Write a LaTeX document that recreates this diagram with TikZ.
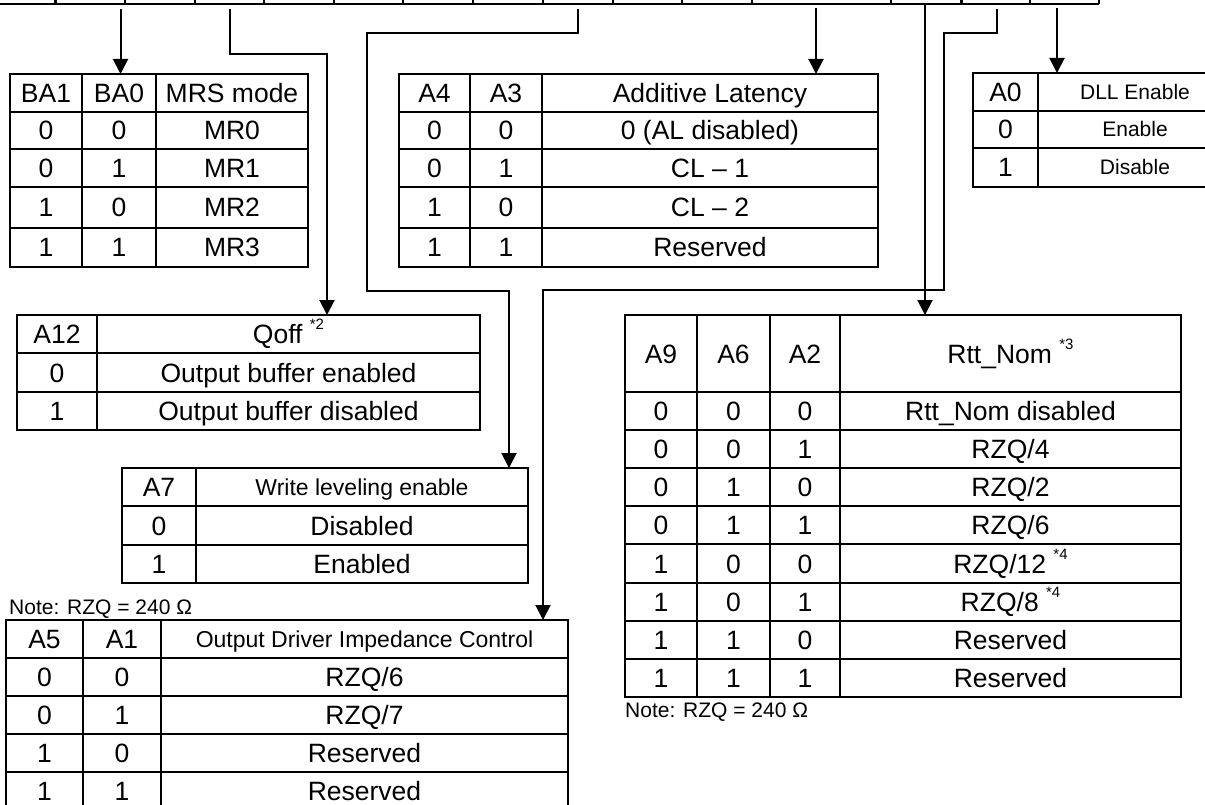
\documentclass[tikz,border=0pt]{standalone}
\usepackage{fontspec}
\setmainfont{Liberation Sans}
\usetikzlibrary{arrows.meta}
\tikzset{
  tab/.style={line width=2.4pt},
  wire/.style={line width=2pt},
  tip/.style={-{Triangle[width=15pt,length=15pt]}},
  cell/.style={inner sep=0pt,font=\fontsize{26.5}{30}\selectfont,text height=19pt,text depth=0pt},
  smallcell/.style={cell,font=\fontsize{23}{27}\selectfont,text height=16.5pt},
  dllcell/.style={cell,font=\fontsize{21}{25}\selectfont,text height=15pt},
  note/.style={inner sep=0pt,anchor=west,font=\fontsize{21}{25}\selectfont,text height=15pt,text depth=0pt}
}
\newcommand\tabgrid[6]{%
  \draw[tab] (#1,#3) rectangle (#2,#4);
  \foreach \gx in {#5} \draw[tab] (\gx,#3) -- (\gx,#4);
  \foreach \gy in {#6} \draw[tab] (#1,\gy) -- (#2,\gy);
}
\newcommand\starnote[1]{\ \raisebox{14pt}{\fontsize{15}{15}\selectfont *#1}}
\begin{document}
\begin{tikzpicture}[x=1pt,y=-1pt]
\useasboundingbox (0,0) rectangle (1205,805);
\clip (0,0) rectangle (1205,805);
% register cells, cut at the top
\draw[tab] (0,4) -- (1099,4);
\foreach \tx in {55.5,125,195,264,334,403,473,543,613,682,752,891,961.5,1030,1099}
  \draw[tab] (\tx,-10) -- (\tx,4);

\coordinate (tBA0) at (120.5,9);
\coordinate (tA12) at (230,9);
\coordinate (tA7) at (578,9);
\coordinate (tAL) at (816,8);
\coordinate (tA2) at (925,4);
\coordinate (tA1) at (997,9);
\coordinate (tA0) at (1057,8);

\coordinate (bain) at (120.5,74);
\coordinate (qoffin) at (327,315);
\coordinate (wlin) at (509,468);
\coordinate (alin) at (816,74);
\coordinate (rttin) at (925,315);
\coordinate (odin) at (543,620);
\coordinate (dllin) at (1057,73);

\draw[wire,tip] (tBA0) -- (bain);
\draw[wire,tip] (tA12) -- ++(0,45) -| (qoffin);
\draw[wire,tip] (tA7) -- ++(0,24) -| (367,291) -| (wlin);
\draw[wire,tip] (tAL) -- (alin);
\draw[wire,tip] (tA2) -- (rttin);
\draw[wire,tip] (tA1) -- ++(0,24) -| (944,290) -| (odin);
\draw[wire,tip] (tA0) -- (dllin);

% BA1 BA0
\tabgrid{10}{308}{74}{267}{82,156}{112,149,187,228}
\node[cell] (ba-h1) at (46,93) {BA1};
\node[cell] (ba-h2) at (119,93) {BA0};
\node[cell] (ba-h3) at (232,93) {MRS mode};
\foreach \cy/\a/\b/\m [count=\r] in {130.5/0/0/MR0,168/0/1/MR1,207.5/1/0/MR2,247.5/1/1/MR3}{
  \node[cell] (ba\r-a) at (46,\cy) {\a};
  \node[cell] (ba\r-b) at (119,\cy) {\b};
  \node[cell] (ba\r-m) at (232,\cy) {\m};
}

% A4 A3
\tabgrid{399}{878}{74}{267}{470,542}{112,149,187,228}
\node[cell] (al-h1) at (434.5,93) {A4};
\node[cell] (al-h2) at (506,93) {A3};
\node[cell] (al-h3) at (710,93) {Additive Latency};
\foreach \cy/\a/\b/\m [count=\r] in {130.5/0/0/{0 (AL disabled)},168/0/1/{CL – 1},207.5/1/0/{CL – 2},247.5/1/1/Reserved}{
  \node[cell] (al\r-a) at (434.5,\cy) {\a};
  \node[cell] (al\r-b) at (506,\cy) {\b};
  \node[cell] (al\r-m) at (710,\cy) {\m};
}

% A0
\tabgrid{973}{1232}{73}{187}{1038}{111,148}
\node[cell] (dll-h1) at (1005.5,92) {A0};
\node[dllcell] (dll-h2) at (1135,92) {DLL Enable};
\node[cell] (dll1-a) at (1005.5,129.5) {0};
\node[dllcell] (dll1-m) at (1135,129.5) {Enable};
\node[cell] (dll2-a) at (1005.5,167.5) {1};
\node[dllcell] (dll2-m) at (1135,167.5) {Disable};

% A12
\tabgrid{17}{480}{315}{430}{97}{353,392}
\node[cell] (qoff-h1) at (57,334) {A12};
\node[cell] (qoff-h2) at (288.5,334) {Qoff\starnote{2}};
\node[cell] (qoff1-a) at (57,372.5) {0};
\node[cell] (qoff1-m) at (288.5,372.5) {Output buffer enabled};
\node[cell] (qoff2-a) at (57,411) {1};
\node[cell] (qoff2-m) at (288.5,411) {Output buffer disabled};

% A7
\tabgrid{122}{528}{468}{583}{196}{506,545}
\node[cell] (wl-h1) at (159,487) {A7};
\node[smallcell] (wl-h2) at (362,487) {Write leveling enable};
\node[cell] (wl1-a) at (159,525.5) {0};
\node[cell] (wl1-m) at (362,525.5) {Disabled};
\node[cell] (wl2-a) at (159,564) {1};
\node[cell] (wl2-m) at (362,564) {Enabled};

% A5 A1
\node[note] (odnote) at (9,607) {Note: RZQ = 240 Ω};
\tabgrid{6}{568}{620}{810}{83,161}{658,696,734,772}
\node[cell] (od-h1) at (44.5,639) {A5};
\node[cell] (od-h2) at (122,639) {A1};
\node[smallcell] (od-h3) at (364.5,639) {Output Driver Impedance Control};
\foreach \cy/\a/\b/\m [count=\r] in {677/0/0/{RZQ/6},715/0/1/{RZQ/7},753/1/0/Reserved,791/1/1/Reserved}{
  \node[cell] (od\r-a) at (44.5,\cy) {\a};
  \node[cell] (od\r-b) at (122,\cy) {\b};
  \node[cell] (od\r-m) at (364.5,\cy) {\m};
}

% A9 A6 A2
\tabgrid{625}{1181}{315}{697}{697,770,840}{392,430,468,506,544,583,621,659}
\node[cell] (rtt-h1) at (661,353.5) {A9};
\node[cell] (rtt-h2) at (733.5,353.5) {A6};
\node[cell] (rtt-h3) at (805,353.5) {A2};
\node[cell] (rtt-h4) at (1010.5,353.5) {Rtt\_Nom\starnote{3}};
\foreach \cy/\a/\b/\c/\m [count=\r] in {411/0/0/0/{Rtt\_Nom disabled},449/0/0/1/{RZQ/4},487/0/1/0/{RZQ/2},525/0/1/1/{RZQ/6},563.5/1/0/0/{RZQ/12\starnote{4}},602/1/0/1/{RZQ/8\starnote{4}},640/1/1/0/Reserved,678/1/1/1/Reserved}{
  \node[cell] (rtt\r-a) at (661,\cy) {\a};
  \node[cell] (rtt\r-b) at (733.5,\cy) {\b};
  \node[cell] (rtt\r-c) at (805,\cy) {\c};
  \node[cell] (rtt\r-m) at (1010.5,\cy) {\m};
}
\node[note] (rttnote) at (625,710) {Note: RZQ = 240 Ω};
\end{tikzpicture}
\end{document}
